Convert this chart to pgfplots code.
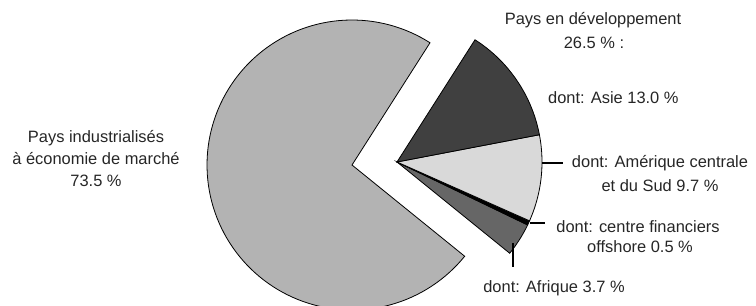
\documentclass[border=0pt]{standalone}
\usepackage{pgfplots}
\pgfplotsset{compat=1.18}
\usepackage{fontspec}
\setmainfont{Liberation Sans}
\definecolor{cInd}{HTML}{B3B3B3}
\definecolor{cAs}{HTML}{404040}
\definecolor{cAm}{HTML}{D9D9D9}
\definecolor{cAf}{HTML}{666666}
\definecolor{txt}{HTML}{262626}
\tikzset{lbl/.style={font=\fontsize{16.5}{20}\selectfont,text=txt,inner sep=0pt}}
\begin{document}
\begin{tikzpicture}
\def\vInd{73.5}\def\vAs{13.0}\def\vAm{9.7}\def\vOff{0.5}\def\vAf{3.7}
\pgfmathsetmacro{\pk}{360/(\vInd+\vAs+\vAm+\vOff+\vAf)}
\pgfmathsetmacro{\aA}{-39}
\pgfmathsetmacro{\aB}{\aA+\pk*\vAf}
\pgfmathsetmacro{\aC}{\aB+\pk*\vOff}
\pgfmathsetmacro{\aD}{\aC+\pk*\vAm}
\pgfmathsetmacro{\aE}{\aD+\pk*\vAs}
\pgfmathsetmacro{\aF}{\aE+\pk*\vInd}
\def\R{145}
\begin{axis}[width=756bp,height=306bp,scale only axis,hide axis,
  xmin=0,xmax=756,ymin=0,ymax=306,clip=true]
% main slice
\addplot[fill=cInd,draw=black,line width=0.8bp,domain=\aE:\aF,samples=120,variable=\t]
  ({352+\R*cos(\t)},{141+\R*sin(\t)}) -- (axis cs:352,141) -- cycle;
% exploded slices
\addplot[fill=cAf,draw=black,line width=0.8bp,domain=\aA:\aB,samples=20,variable=\t]
  ({397+\R*cos(\t)},{144+\R*sin(\t)}) -- (axis cs:397,144) -- cycle;
\addplot[fill=black,draw=black,line width=0.8bp,domain=\aB:\aC,samples=5,variable=\t]
  ({397+\R*cos(\t)},{144+\R*sin(\t)}) -- (axis cs:397,144) -- cycle;
\addplot[fill=cAm,draw=black,line width=0.8bp,domain=\aC:\aD,samples=40,variable=\t]
  ({397+\R*cos(\t)},{144+\R*sin(\t)}) -- (axis cs:397,144) -- cycle;
\addplot[fill=cAs,draw=black,line width=0.8bp,domain=\aD:\aE,samples=50,variable=\t]
  ({397+\R*cos(\t)},{144+\R*sin(\t)}) -- (axis cs:397,144) -- cycle;
% leader lines
\addplot[black,line width=1.2bp] coordinates {(542,143) (563,143)};
\addplot[black,line width=1.2bp] coordinates {(530,83) (545,83)};
\addplot[black,line width=1.2bp] coordinates {(513,63) (513,39)};
% labels
\node[lbl,anchor=base] at (axis cs:96,163) {Pays industrialisés};
\node[lbl,anchor=base] at (axis cs:96,141) {à économie de marché};
\node[lbl,anchor=base] at (axis cs:96,119) {73.5 \%};
\node[lbl,anchor=base] at (axis cs:593,281) {Pays en développement};
\node[lbl,anchor=base] at (axis cs:594,257) {26.5 \% :};
\node[lbl,anchor=base west] at (axis cs:548,202) {dont: Asie 13.0 \%};
\node[lbl,anchor=base] at (axis cs:660,138) {dont: Amérique centrale};
\node[lbl,anchor=base] at (axis cs:660,114) {et du Sud 9.7 \%};
\node[lbl,anchor=base] at (axis cs:638,73) {dont: centre financiers};
\node[lbl,anchor=base] at (axis cs:640,53) {offshore 0.5 \%};
\node[lbl,anchor=base] at (axis cs:554,14) {dont: Afrique 3.7 \%};
\end{axis}
\pgfresetboundingbox
\useasboundingbox (current axis.south west) rectangle (current axis.north east);
\end{tikzpicture}
\end{document}
